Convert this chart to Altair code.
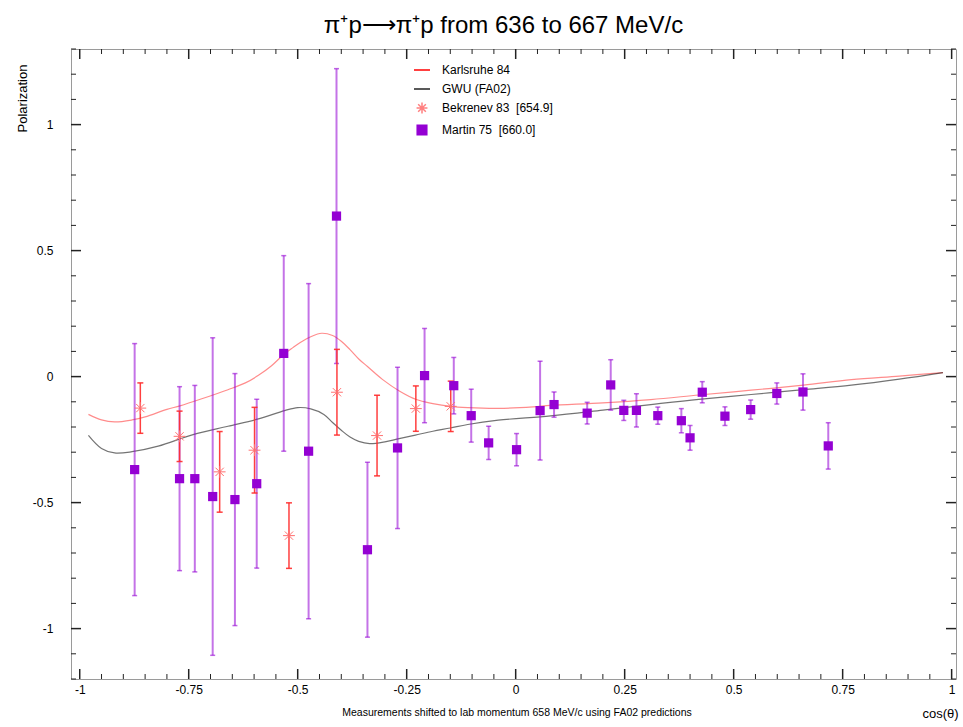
import altair as alt
import pandas as pd

FONT = "Liberation Sans"
TITLE = "π⁺p⟶π⁺p from 636 to 667 MeV/c"
NOTE = "Measurements shifted to lab momentum 658 MeV/c using FA02 predictions"

series_names = ["Karlsruhe 84", "GWU (FA02)", "Bekrenev 83\u00a0 [654.9]", "Martin 75\u00a0 [660.0]"]

# Karlsruhe 84 curve
karl_x = [-0.98, -0.95, -0.92, -0.88, -0.85, -0.80, -0.77, -0.72, -0.66, -0.62, -0.59, -0.56, -0.532, -0.511,
          -0.495, -0.47, -0.445, -0.42, -0.40, -0.38, -0.36, -0.34, -0.305, -0.266, -0.228, -0.19,
          -0.15, -0.11, -0.04, 0.04, 0.08, 0.20, 0.31, 0.42, 0.54, 0.66, 0.77, 0.88, 0.98]
karl_y = [-0.15, -0.172, -0.18, -0.172, -0.16, -0.13, -0.116, -0.088, -0.052, -0.025, 0.005, 0.043, 0.088, 0.115,
          0.134, 0.158, 0.172, 0.163, 0.14, 0.107, 0.07, 0.04, -0.012, -0.058, -0.091, -0.107,
          -0.118, -0.123, -0.126, -0.12, -0.114, -0.104, -0.091, -0.073, -0.054, -0.034, -0.012, 0.002, 0.016]

# GWU (FA02) curve
gwu_x = [-0.98, -0.95, -0.92, -0.88, -0.82, -0.74, -0.66, -0.59, -0.53, -0.50, -0.47, -0.44, -0.42,
         -0.40, -0.38, -0.36, -0.335, -0.30, -0.27, -0.23, -0.19, -0.15, -0.11, -0.04, 0.08, 0.20,
         0.31, 0.42, 0.54, 0.66, 0.77, 0.88, 0.98]
gwu_y = [-0.233, -0.285, -0.303, -0.298, -0.276, -0.23, -0.197, -0.168, -0.135, -0.123, -0.128, -0.15, -0.182,
         -0.213, -0.24, -0.257, -0.266, -0.259, -0.247, -0.232, -0.217, -0.204, -0.19, -0.173, -0.156, -0.133,
         -0.111, -0.09, -0.071, -0.052, -0.034, -0.01, 0.016]

# Bekrenev 83 [654.9]
bek_x = [-0.861, -0.771, -0.679, -0.599, -0.520, -0.410, -0.318, -0.229, -0.149]
bek_y = [-0.125, -0.237, -0.378, -0.292, -0.631, -0.062, -0.234, -0.127, -0.118]
bek_err = [0.10, 0.10, 0.16, 0.17, 0.13, 0.17, 0.16, 0.09, 0.10]

# Martin 75 [660.0]
mar_x = [-0.874, -0.771, -0.736, -0.695, -0.644, -0.594, -0.532, -0.475, -0.411, -0.340, -0.271,
         -0.209, -0.142, -0.102, -0.062, 0.002, 0.056, 0.088, 0.164, 0.218, 0.248, 0.277, 0.326,
         0.380, 0.400, 0.428, 0.480, 0.539, 0.599, 0.659, 0.717]
mar_y = [-0.369, -0.405, -0.405, -0.476, -0.488, -0.425, 0.092, -0.296, 0.637, -0.687, -0.283,
         0.004, -0.036, -0.155, -0.263, -0.290, -0.135, -0.111, -0.145, -0.033, -0.134, -0.134, -0.155,
         -0.175, -0.243, -0.062, -0.157, -0.131, -0.067, -0.061, -0.275]
mar_err = [0.50, 0.365, 0.37, 0.63, 0.50, 0.335, 0.388, 0.665, 0.585, 0.347, 0.32,
           0.187, 0.112, 0.105, 0.066, 0.064, 0.196, 0.05, 0.043, 0.10, 0.04, 0.066, 0.034,
           0.048, 0.049, 0.042, 0.037, 0.038, 0.042, 0.072, 0.092]

x_major = [-1, -0.75, -0.5, -0.25, 0, 0.25, 0.5, 0.75, 1]
y_major = [-1, -0.5, 0, 0.5, 1]
x_minor = [v for v in [round(-1 + 0.05 * i, 2) for i in range(41)] if v not in x_major]
y_minor = [v for v in [round(-1.2 + 0.1 * i, 1) for i in range(26)] if v not in y_major]

W, H = 885, 630

xs = alt.Scale(domain=[-1.02, 1.01], nice=False, zero=False)
ys = alt.Scale(domain=[-1.2, 1.3], nice=False, zero=False)

x_axis = alt.Axis(values=x_major, ticks=False, domain=False, grid=False,
                  labelExpr="toString(datum.value)", labelFont=FONT, labelFontSize=12,
                  labelColor="black", labelPadding=5, labelOverlap=False, labelFlush=False,
                  title="cos(θ)", titleFont=FONT, titleFontSize=13, titleFontWeight="normal",
                  titleColor="black", titleX=869, titleY=34, titleAlign="center",
                  titleBaseline="middle")
y_axis = alt.Axis(values=y_major, ticks=False, domain=False, grid=False,
                  labelExpr="toString(datum.value)", labelFont=FONT, labelFontSize=12,
                  labelColor="black", labelPadding=18, labelOverlap=False, labelFlush=False,
                  title="Polarization", titleFont=FONT, titleFontSize=13, titleFontWeight="normal",
                  titleColor="black", titleX=-49, titleY=49, titleAngle=-90,
                  titleAlign="center", titleBaseline="middle")


def X(f="x"):
    return alt.X(f"{f}:Q", scale=xs, axis=x_axis)


def Y(f="y"):
    return alt.Y(f"{f}:Q", scale=ys, axis=y_axis)


karl_df = pd.DataFrame({"x": karl_x, "y": karl_y})
gwu_df = pd.DataFrame({"x": gwu_x, "y": gwu_y})
bek_df = pd.DataFrame({"x": bek_x, "y": bek_y,
                       "lo": [a - b for a, b in zip(bek_y, bek_err)],
                       "hi": [a + b for a, b in zip(bek_y, bek_err)]})
mar_df = pd.DataFrame({"x": mar_x, "y": mar_y,
                       "lo": [a - b for a, b in zip(mar_y, mar_err)],
                       "hi": [a + b for a, b in zip(mar_y, mar_err)]})
bek_caps = pd.DataFrame({"x": bek_x + bek_x, "y": list(bek_df["lo"]) + list(bek_df["hi"])})
mar_caps = pd.DataFrame({"x": mar_x + mar_x, "y": list(mar_df["lo"]) + list(mar_df["hi"])})

ASTER = "M-1,0H1M0,-1V1M-0.7,-0.7L0.7,0.7M-0.7,0.7L0.7,-0.7"
LEG_LINE = "M-1,0H1"
LEG_ASTER = "M-0.68,0H0.68M0,-0.68V0.68M-0.48,-0.48L0.48,0.48M-0.48,0.48L0.48,-0.48"
LEG_SQUARE = "M-0.6,-0.6H0.6V0.6H-0.6Z"

MARTIN = "#9400d3"
BEK_PT = "#ff7070"
BEK_BAR = "#ff2a2a"

karl_line = alt.Chart(karl_df).mark_line(color="#ff0000", strokeWidth=1.2, opacity=0.45,
                                         interpolate="catmull-rom").encode(x=X(), y=Y())
gwu_line = alt.Chart(gwu_df).mark_line(color="#000000", strokeWidth=1.2, opacity=0.55,
                                       interpolate="catmull-rom").encode(x=X(), y=Y())

mar_bars = alt.Chart(mar_df).mark_rule(color=MARTIN, strokeWidth=2, opacity=0.55).encode(
    x=X(), y=Y("lo"), y2=alt.Y2("hi"))
mar_cap = alt.Chart(mar_caps).mark_tick(orient="horizontal", size=5, thickness=1.5,
                                        color=MARTIN, opacity=0.6).encode(x=X(), y=Y())
bek_bars = alt.Chart(bek_df).mark_rule(color=BEK_BAR, strokeWidth=1.5, opacity=0.9).encode(
    x=X(), y=Y("lo"), y2=alt.Y2("hi"))
bek_cap = alt.Chart(bek_caps).mark_tick(orient="horizontal", size=6, thickness=1.5,
                                        color=BEK_BAR, opacity=0.9).encode(x=X(), y=Y())
bek_pts = alt.Chart(bek_df).mark_point(shape=ASTER, size=140, filled=False, color=BEK_PT,
                                       strokeWidth=1, opacity=1).encode(x=X(), y=Y())
mar_pts = alt.Chart(mar_df).mark_point(shape="square", size=85, filled=True, color=MARTIN,
                                       opacity=1).encode(x=X(), y=Y())

# frame ticks (pointing inward)
xmaj_df = pd.DataFrame({"x": x_major})
xmin_df = pd.DataFrame({"x": x_minor})
ymaj_df = pd.DataFrame({"y": y_major})
ymin_df = pd.DataFrame({"y": y_minor})
TK = "#222222"
ticks = [
    alt.Chart(xmaj_df).mark_rule(color=TK, strokeWidth=1.5).encode(x=X(), y=alt.value(H), y2=alt.value(H - 10)),
    alt.Chart(xmaj_df).mark_rule(color=TK, strokeWidth=1.5).encode(x=X(), y=alt.value(0), y2=alt.value(10)),
    alt.Chart(xmin_df).mark_rule(color=TK, strokeWidth=1).encode(x=X(), y=alt.value(H), y2=alt.value(H - 5)),
    alt.Chart(xmin_df).mark_rule(color=TK, strokeWidth=1).encode(x=X(), y=alt.value(0), y2=alt.value(5)),
    alt.Chart(ymaj_df).mark_rule(color=TK, strokeWidth=1.5).encode(y=Y(), x=alt.value(0), x2=alt.value(10)),
    alt.Chart(ymaj_df).mark_rule(color=TK, strokeWidth=1.5).encode(y=Y(), x=alt.value(W), x2=alt.value(W - 10)),
    alt.Chart(ymin_df).mark_rule(color=TK, strokeWidth=1).encode(y=Y(), x=alt.value(0), x2=alt.value(5)),
    alt.Chart(ymin_df).mark_rule(color=TK, strokeWidth=1).encode(y=Y(), x=alt.value(W), x2=alt.value(W - 5)),
]

note = alt.Chart(pd.DataFrame({"t": [NOTE]})).mark_text(
    font=FONT, fontSize=10.5, color="black", align="center", baseline="middle").encode(
    text="t:N", x=alt.value(446), y=alt.value(664))

leg = alt.Legend(title=None, orient="none", legendX=342, legendY=12, symbolSize=256,
                 labelFont=FONT, labelFontSize=12, labelColor="black", labelOffset=11,
                 rowPadding=4, padding=0, symbolStrokeWidth=1.5, symbolOpacity=1)
leg_df = pd.DataFrame({"series": series_names})
legend_layer = alt.Chart(leg_df).mark_point(filled=True, opacity=1).encode(
    fill=alt.Fill("series:N", scale=alt.Scale(domain=series_names,
                                              range=["#ff0000", "#222222", "#ff8080", MARTIN]),
                  legend=leg),
    stroke=alt.Stroke("series:N", scale=alt.Scale(domain=series_names,
                                                  range=["#ff0000", "#222222", "#ff8080", MARTIN]),
                      legend=leg),
    shape=alt.Shape("series:N", scale=alt.Scale(domain=series_names,
                                                range=[LEG_LINE, LEG_LINE, LEG_ASTER, LEG_SQUARE]),
                    legend=leg),
).transform_filter("false")

chart = alt.layer(
    karl_line, gwu_line, mar_bars, mar_cap, bek_bars, bek_cap, bek_pts, mar_pts,
    *ticks, note, legend_layer
).properties(
    width=W, height=H,
    title=alt.TitleParams(TITLE, font=FONT, fontSize=24, fontWeight="normal", color="black",
                          anchor="middle", frame="group", dx=-10, offset=10),
    autosize=alt.AutoSizeParams(type="none"),
    padding={"left": 71, "top": 49, "right": 7, "bottom": 48},
).configure_view(stroke="#9a9a9a", strokeWidth=1)

chart.save("out.html", embed_options={"renderer": "svg", "actions": False})
